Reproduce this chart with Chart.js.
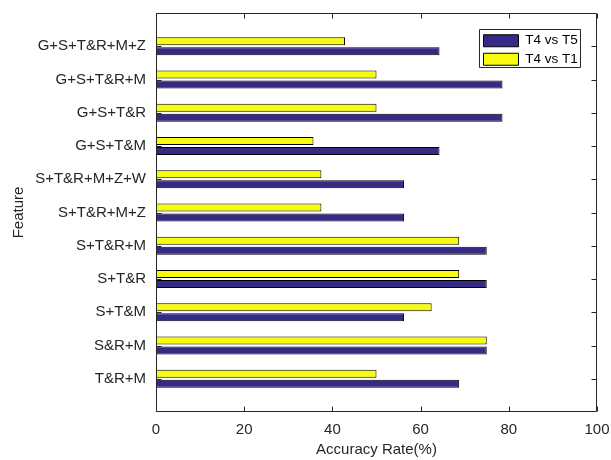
<!DOCTYPE html>
<html>
<head>
<meta charset="utf-8">
<script src="https://cdn.jsdelivr.net/npm/chart.js@4/dist/chart.umd.min.js"></script>
<style>
  html, body { margin: 0; padding: 0; background: #ffffff; }
  #wrap { width: 611px; height: 460px; }
</style>
</head>
<body>
<div id="wrap"><canvas id="c" width="611" height="460"></canvas></div>
<script>
// ---- data ----
const categories = ['G+S+T&R+M+Z', 'G+S+T&R+M', 'G+S+T&R', 'G+S+T&M', 'S+T&R+M+Z+W',
                    'S+T&R+M+Z', 'S+T&R+M', 'S+T&R', 'S+T&M', 'S&R+M', 'T&R+M'];
const seriesNames = ['T4 vs T5', 'T4 vs T1'];
const t4vsT5 = [64.29, 78.57, 78.57, 64.29, 56.25, 56.25, 75, 75, 56.25, 75, 68.75];
const t4vsT1 = [42.86, 50, 50, 35.71, 37.5, 37.5, 68.75, 68.75, 62.5, 75, 50];
const xTicks = [0, 20, 40, 60, 80, 100];
const xTitle = 'Accuracy Rate(%)';
const yTitle = 'Feature';

// ---- styles ----
const FONT = "'Liberation Sans', Arial, Helvetica, sans-serif";
const INK = '#262626';
const BLUE = 'rgb(53,42,135)';
const YELLOW = 'rgb(249,251,14)';

const toPoints = vals => vals.map((v, i) => ({ x: v, y: i + 1 }));

const matlabFrame = {
  id: 'matlabFrame',
  afterLayout(chart) {
    const lg = chart.legend, a = chart.chartArea;
    if (!lg) return;
    const w = lg.width, h = lg.height;
    lg.left = a.right - 118.5;
    lg.top = a.top + 16;
    lg.right = lg.left + w;
    lg.bottom = lg.top + h;
  },
  afterDraw(chart) {
    const ctx = chart.ctx, a = chart.chartArea;
    const xs = chart.scales.x, ys = chart.scales.y;
    const L = Math.round(a.left) + 0.5, R = Math.round(a.right) - 0.5;
    const T = Math.round(a.top) + 0.5, B = Math.round(a.bottom) - 0.5;
    const tl = 5;
    ctx.save();
    ctx.strokeStyle = INK;
    ctx.lineWidth = 1;
    ctx.beginPath();
    ctx.rect(L, T, R - L, B - T);
    xs.ticks.forEach(t => {
      const px = Math.round(xs.getPixelForValue(t.value)) + 0.5;
      ctx.moveTo(px, B); ctx.lineTo(px, B - tl);
      ctx.moveTo(px, T); ctx.lineTo(px, T + tl);
    });
    categories.forEach((c, i) => {
      const py = Math.round(ys.getPixelForValue(i + 1)) + 0.5;
      ctx.moveTo(L, py); ctx.lineTo(L + tl, py);
      ctx.moveTo(R, py); ctx.lineTo(R - tl, py);
    });
    ctx.stroke();
    const lg = chart.legend;
    if (lg) {
      ctx.beginPath();
      ctx.rect(Math.round(lg.left) + 0.5, Math.round(lg.top) + 0.5, 101, 38);
      ctx.stroke();
    }
    ctx.restore();
  }
};

new Chart(document.getElementById('c'), {
  type: 'bar',
  data: {
    datasets: [
      { label: seriesNames[1], data: toPoints(t4vsT1), backgroundColor: YELLOW,
        borderColor: '#000', borderWidth: 1, borderSkipped: false },
      { label: seriesNames[0], data: toPoints(t4vsT5), backgroundColor: BLUE,
        borderColor: '#000', borderWidth: 1, borderSkipped: false }
    ]
  },
  options: {
    indexAxis: 'y',
    responsive: false,
    animation: false,
    devicePixelRatio: 1,
    categoryPercentage: 0.6,
    barPercentage: 0.8,
    layout: { padding: { top: 13, right: 14, bottom: 0, left: 0 } },
    plugins: {
      tooltip: { enabled: false },
      legend: {
        position: 'chartArea',
        align: 'start',
        reverse: true,
        labels: {
          boxWidth: 35, boxHeight: 12, padding: 5,
          color: '#000',
          font: { family: FONT, size: 13.5 }
        }
      }
    },
    scales: {
      x: {
        type: 'linear',
        offset: false,
        min: 0, max: 100,
        afterBuildTicks: s => { s.ticks = xTicks.map(v => ({ value: v })); },
        afterFit: s => { s.height = 48; s.paddingLeft = 0; s.paddingRight = 0; },
        grid: { display: false, drawTicks: false, offset: false },
        border: { display: false },
        ticks: { padding: 9, color: INK, font: { family: FONT, size: 15 } },
        title: { display: true, text: xTitle, color: INK, padding: { top: 0, bottom: 1 },
                 font: { family: FONT, size: 15 } }
      },
      y: {
        type: 'linear',
        offset: false,
        reverse: true,
        min: 0, max: 12,
        afterBuildTicks: s => { s.ticks = categories.map((c, i) => ({ value: i + 1 })); },
        afterFit: s => { s.width = 156; s.paddingTop = 0; s.paddingBottom = 0; },
        grid: { display: false, drawTicks: false, offset: false },
        border: { display: false },
        ticks: {
          autoSkip: false,
          padding: 10,
          color: INK,
          font: { family: FONT, size: 15 },
          callback: v => categories[v - 1] || ''
        },
        title: { display: true, text: yTitle, color: INK, padding: { top: 10, bottom: 0 },
                 font: { family: FONT, size: 15 } }
      }
    }
  },
  plugins: [matlabFrame]
});
</script>
</body>
</html>
